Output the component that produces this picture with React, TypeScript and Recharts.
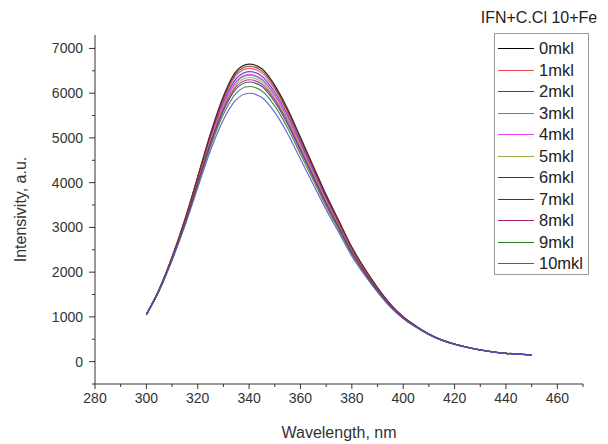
import React from 'react';
import { LineChart, Line, XAxis, YAxis } from 'recharts';

// wavelength grid, nm
const wavelengths = [300, 305, 310, 315, 320, 325, 330, 335, 340, 345, 350, 355, 360, 365, 370, 375, 380, 385, 390, 395, 400, 405, 410, 415, 420, 425, 430, 435, 440, 445, 450];

// fluorescence intensity per Fe addition (a.u.)
const fe0 = [1056, 1618, 2338, 3178, 4133, 5104, 5933, 6492, 6650, 6545, 6175, 5647, 5014, 4369, 3728, 3142, 2559, 2078, 1653, 1285, 1002, 793, 619, 485, 393, 322, 261, 216, 186, 166, 151];
const fe1 = [1054, 1613, 2328, 3156, 4096, 5047, 5853, 6396, 6552, 6448, 6084, 5564, 4940, 4308, 3678, 3102, 2528, 2056, 1638, 1275, 996, 789, 616, 484, 392, 321, 261, 216, 186, 166, 151];
const fe2 = [1053, 1609, 2320, 3140, 4070, 5007, 5797, 6328, 6483, 6380, 6020, 5505, 4888, 4264, 3643, 3074, 2507, 2041, 1628, 1268, 991, 787, 614, 483, 392, 321, 260, 215, 185, 165, 150];
const fe3 = [1052, 1605, 2311, 3122, 4038, 4959, 5731, 6248, 6401, 6299, 5944, 5436, 4826, 4213, 3601, 3041, 2481, 2022, 1615, 1260, 986, 784, 612, 482, 391, 320, 260, 215, 185, 165, 150];
const fe4 = [1052, 1606, 2313, 3127, 4046, 4970, 5747, 6267, 6420, 6318, 5961, 5452, 4840, 4225, 3611, 3048, 2487, 2027, 1618, 1262, 987, 784, 613, 482, 391, 320, 260, 215, 185, 165, 150];
const fe5 = [1051, 1603, 2306, 3111, 4019, 4929, 5691, 6199, 6350, 6250, 5897, 5393, 4788, 4182, 3576, 3020, 2466, 2011, 1608, 1255, 983, 782, 611, 481, 390, 320, 260, 215, 185, 165, 150];
const fe6 = [1049, 1597, 2294, 3089, 3981, 4871, 5609, 6101, 6250, 6150, 5803, 5307, 4712, 4118, 3524, 2980, 2434, 1989, 1592, 1245, 977, 778, 609, 479, 390, 320, 260, 215, 185, 165, 150];
const fe7 = [1055, 1615, 2333, 3167, 4115, 5076, 5894, 6445, 6602, 6498, 6131, 5607, 4978, 4339, 3703, 3122, 2544, 2067, 1646, 1280, 999, 791, 617, 485, 393, 322, 261, 216, 186, 166, 151];
const fe8 = [1050, 1600, 2300, 3100, 4000, 4900, 5650, 6150, 6300, 6200, 5850, 5350, 4750, 4150, 3550, 3000, 2450, 2000, 1600, 1250, 980, 780, 610, 480, 390, 320, 260, 215, 185, 165, 150];
const fe9 = [1047, 1592, 2283, 3067, 3942, 4812, 5528, 6002, 6149, 6051, 5710, 5222, 4636, 4055, 3473, 2939, 2403, 1966, 1577, 1235, 971, 774, 606, 478, 389, 320, 260, 215, 185, 165, 150];
const fe10 = [1045, 1585, 2267, 3033, 3885, 4724, 5406, 5855, 5998, 5902, 5569, 5093, 4522, 3961, 3397, 2878, 2356, 1933, 1554, 1220, 961, 769, 603, 475, 387, 318, 259, 214, 184, 164, 149];

const seriesNames = ['0mkl', '1mkl', '2mkl', '3mkl', '4mkl', '5mkl', '6mkl', '7mkl', '8mkl', '9mkl', '10mkl'];
const seriesValues = [fe0, fe1, fe2, fe3, fe4, fe5, fe6, fe7, fe8, fe9, fe10];
const seriesColors = ['#000000', '#f04848', '#3838c8', '#2aa0a0', '#f040f0', '#a8a848', '#303080', '#802020', '#b0206a', '#208020', '#5a4ad0'];

const xTicks = [280, 290, 300, 310, 320, 330, 340, 350, 360, 370, 380, 390, 400, 410, 420, 430, 440, 450, 460, 470];
const yTicks = [-500, 0, 500, 1000, 1500, 2000, 2500, 3000, 3500, 4000, 4500, 5000, 5500, 6000, 6500, 7000];

const legendTitle = 'IFN+C.Cl 10+Fe';

const data = wavelengths.map((wl, i) => {
  const row: Record<string, number> = { wl };
  seriesNames.forEach((name, k) => {
    row[name] = seriesValues[k][i];
  });
  return row;
});

const FONT = '"Liberation Sans", Arial, sans-serif';
const AXIS = '#333';

const XTick = (props: any) => {
  const { x, y, payload } = props;
  const major = payload.value % 20 === 0;
  return (
    <g>
      <line x1={x} y1={y} x2={x} y2={y + (major ? 5 : 3)} stroke={AXIS} />
      {major && (
        <text x={x} y={y + 19} textAnchor="middle" fontSize={14} fill="#333" fontFamily={FONT}>
          {payload.value}
        </text>
      )}
    </g>
  );
};

const YTick = (props: any) => {
  const { x, y, payload } = props;
  const major = payload.value % 1000 === 0 && payload.value >= 0;
  return (
    <g>
      <line x1={x} y1={y} x2={x - (major ? 6 : 3)} y2={y} stroke={AXIS} />
      {major && (
        <text x={x - 12} y={y + 5} textAnchor="end" fontSize={14} fill="#333" fontFamily={FONT}>
          {payload.value}
        </text>
      )}
    </g>
  );
};

export default function App() {
  return (
    <div style={{ position: 'absolute', left: 0, top: 0, width: 608, height: 444, background: '#fff', fontFamily: FONT }}>
      <LineChart width={608} height={444} data={data} margin={{ top: 35, right: 25, bottom: 0, left: 10 }}>
        <XAxis
          dataKey="wl"
          type="number"
          domain={[280, 470]}
          ticks={xTicks}
          interval={0}
          tick={<XTick />}
          tickSize={0}
          tickMargin={0}
          tickLine={false}
          height={60}
          stroke={AXIS}
          label={{ value: 'Wavelength, nm', position: 'insideBottom', offset: 6, fontSize: 16, fill: '#333', fontFamily: FONT }}
        />
        <YAxis
          type="number"
          domain={[-500, 7300]}
          ticks={yTicks}
          interval={0}
          tick={<YTick />}
          tickSize={0}
          tickMargin={0}
          tickLine={false}
          width={85}
          stroke={AXIS}
          allowDataOverflow
          label={{ value: 'Intensivity, a.u.', angle: -90, position: 'insideLeft', offset: 10, fontSize: 16, fill: '#333', fontFamily: FONT, style: { textAnchor: 'middle' } }}
        />
        {seriesNames.map((name, k) => (
          <Line
            key={name}
            type="monotone"
            dataKey={name}
            stroke={seriesColors[k]}
            strokeWidth={1.2}
            strokeOpacity={0.85}
            dot={false}
            isAnimationActive={false}
          />
        ))}
      </LineChart>

      <div style={{ position: 'absolute', left: 470, top: 9, width: 138, textAlign: 'center', fontSize: 16, color: '#222' }}>
        {legendTitle}
      </div>
      <div style={{ position: 'absolute', left: 494, top: 33, width: 95, height: 242, border: '1px solid #999', boxSizing: 'border-box' }}>
        {seriesNames.map((name, k) => (
          <div key={name} style={{ position: 'absolute', left: 0, top: 4 + k * 21.5, height: 21, display: 'flex', alignItems: 'center' }}>
            <svg width={42} height={21} style={{ display: 'block' }}>
              <line x1={3} y1={10.5} x2={39} y2={10.5} stroke={seriesColors[k]} strokeWidth={1} />
            </svg>
            <span style={{ fontSize: 16.5, color: '#222', marginLeft: 2 }}>{name}</span>
          </div>
        ))}
      </div>
    </div>
  );
}
